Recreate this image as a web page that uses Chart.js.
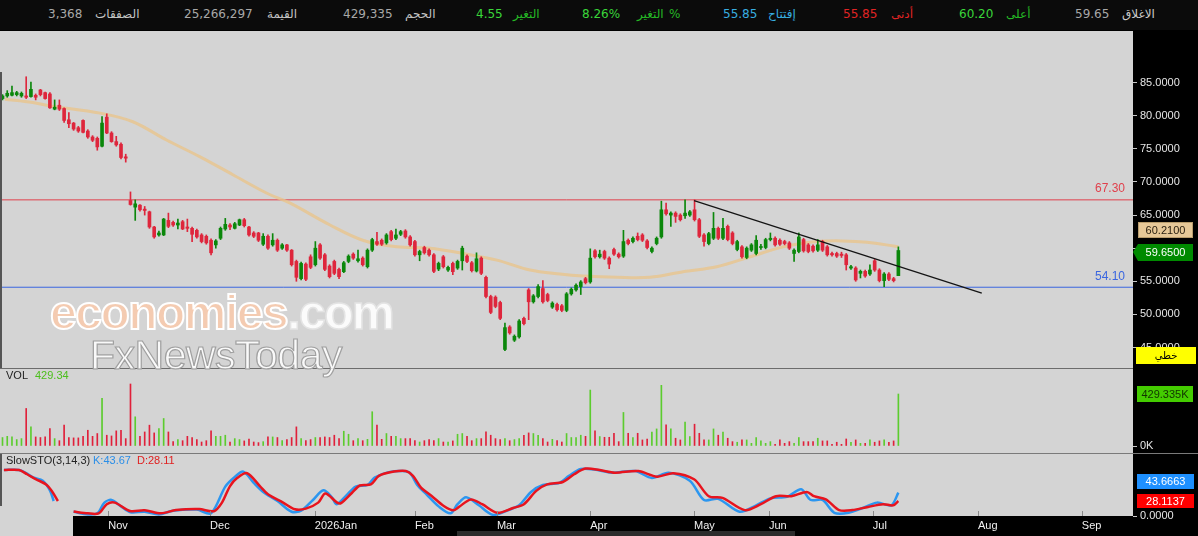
<!DOCTYPE html>
<html>
<head>
<meta charset="utf-8">
<script src="https://cdn.jsdelivr.net/npm/chart.js@4.4.1/dist/chart.umd.min.js"></script>
<style>
body { margin:0; width:1198px; height:536px; overflow:hidden; background:#000; position:relative; font-family:"DejaVu Sans",sans-serif; }
#hdr { position:absolute; left:0; top:0; width:1198px; height:30px; background:#0b0b0b; }
.t { position:absolute; top:7px; font-size:12px; white-space:nowrap; }
canvas { position:absolute; left:0; }
.lbl { position:absolute; font-family:"Liberation Sans",sans-serif; font-size:11px; white-space:nowrap; }
.box { position:absolute; font-family:"Liberation Sans",sans-serif; font-size:11px; text-align:center; box-sizing:border-box; }
.wm { position:absolute; font-family:"Liberation Sans",Arial,sans-serif; white-space:nowrap; pointer-events:none; }
</style>
</head>
<body>
<div id="hdr">
  <span class="t" style="left:48px;color:#a8a8a8">3,368</span>
  <span class="t" style="left:95px;color:#c4c4c4">الصفقات</span>
  <span class="t" style="left:184px;color:#a8a8a8">25,266,297</span>
  <span class="t" style="left:267px;color:#c4c4c4">القيمة</span>
  <span class="t" style="left:343px;color:#a8a8a8">429,335</span>
  <span class="t" style="left:405px;color:#c4c4c4">الحجم</span>
  <span class="t" style="left:476px;color:#3ad63a">4.55</span>
  <span class="t" style="left:513px;color:#25b825">التغير</span>
  <span class="t" style="left:582px;color:#3ad63a">8.26%</span>
  <span class="t" style="left:637px;color:#25b825">التغير</span>
  <span class="t" style="left:669px;color:#25b825">%</span>
  <span class="t" style="left:723px;color:#38aee0">55.85</span>
  <span class="t" style="left:768px;color:#38aee0">إفتتاح</span>
  <span class="t" style="left:843px;color:#e02424">55.85</span>
  <span class="t" style="left:891px;color:#e02424">أدنى</span>
  <span class="t" style="left:959px;color:#3ad63a">60.20</span>
  <span class="t" style="left:1006px;color:#25b825">أعلى</span>
  <span class="t" style="left:1075px;color:#a8a8a8">59.65</span>
  <span class="t" style="left:1122px;color:#cccccc">الاغلاق</span>
</div>

<canvas id="price" width="1198" height="337" style="top:31px"></canvas>
<div style="position:absolute;left:0;top:368px;width:1133px;height:1px;background:#6c6c6c"></div>
<canvas id="vol" width="1198" height="84" style="top:369px"></canvas>
<div style="position:absolute;left:0;top:453px;width:1198px;height:1px;background:#7a7a7a"></div>
<canvas id="sto" width="1198" height="82" style="top:454px"></canvas>
<div style="position:absolute;left:0;top:72px;width:2px;height:296px;background:#555"></div>
<div style="position:absolute;left:0;top:454px;width:2px;height:52px;background:#555"></div>

<div class="lbl" style="left:6px;top:369px;color:#222">VOL</div>
<div class="lbl" style="left:35px;top:369px;color:#4cbf1c">429.34</div>
<div class="lbl" style="left:6px;top:454px;color:#222">SlowSTO(3,14,3)</div>
<div class="lbl" style="left:93px;top:454px;color:#2a8ee8">K:43.67</div>
<div class="lbl" style="left:137px;top:454px;color:#e02020">D:28.11</div>

<div style="position:absolute;left:1136px;top:238px;width:60px;height:6px;background:#000"></div>
<div class="box" style="left:1138px;top:222px;width:55px;height:16px;line-height:15px;background:#e6c898;border:1px solid #b89c6c;color:#2a2010">60.2100</div>
<div style="position:absolute;left:1133px;top:244px;width:0;height:0;border-top:8px solid transparent;border-bottom:9px solid transparent;border-right:5px solid #008a00"></div>
<div class="box" style="left:1138px;top:244px;width:55px;height:17px;line-height:17px;background:#008a00;color:#fff">59.6500</div>
<div class="box" style="left:1136px;top:347px;width:60px;height:17px;line-height:17px;background:#ffff00;color:#000;font-family:'DejaVu Sans',sans-serif;font-size:10px">خطي</div>
<div class="box" style="left:1137px;top:386px;width:56px;height:16px;line-height:16px;background:#44cc00;color:#113300">429.335K</div>
<div class="box" style="left:1137px;top:474px;width:57px;height:15px;line-height:15px;background:#1e90ff;color:#fff">43.6663</div>
<div class="box" style="left:1137px;top:494px;width:57px;height:14px;line-height:14px;background:#ff0000;color:#fff">28.1137</div>

<div class="wm" style="left:50px;top:289px;font-size:48px;line-height:48px;font-weight:bold;letter-spacing:-1.5px;">
  <span style="color:rgba(248,202,172,0.88);-webkit-text-stroke:2px #ffffff">economies</span><span style="color:rgba(255,255,255,0.9);-webkit-text-stroke:1.5px #e4e4e4">.com</span>
</div>
<div class="wm" style="left:90px;top:335px;font-size:41px;line-height:41px;letter-spacing:-0.5px;color:rgba(255,255,255,0.85);-webkit-text-stroke:1.2px #a0a0a0">FxNewsToday</div>

<script>
// daily candles, oldest first
const opens = [82.6,83.0,83.1,83.2,83.0,83.0,82.9,83.1,83.9,83.5,83.3,81.0,81.6,81.1,79.4,78.9,78.2,79.3,77.7,76.8,
  76.6,75.4,79.8,77.4,76.1,75.7,73.8,67.2,66.2,66.5,65.9,65.5,63.2,62.0,62.0,64.2,63.9,63.5,64.0,63.2,
  63.0,62.7,62.0,61.8,61.2,60.5,61.5,62.9,63.5,63.0,63.5,64.3,63.2,62.3,62.3,60.6,61.8,60.5,61.2,60.0,
  60.5,59.7,58.0,55.4,57.6,58.7,57.5,60.5,59.0,57.3,58.0,56.8,56.45,58.0,59.1,58.1,58.5,57.2,59.7,61.0,
  61.2,60.8,62.5,61.5,62.1,62.6,61.7,61.0,59.0,60.1,59.7,59.0,56.85,58.7,56.7,57.7,57.0,58.1,58.8,57.8,
  56.55,58.5,55.6,52.7,52.6,51.8,44.7,48.1,46.1,46.6,49.4,53.7,51.9,52.7,53.9,53.0,51.1,51.5,51.3,50.6,
  53.1,53.7,54.2,55.4,54.9,59.6,58.7,59.5,58.5,59.8,59.1,58.8,61.2,61.0,61.8,62.0,61.1,59.5,60.7,61.7,
  65.8,65.0,65.3,65.0,64.9,65.0,65.8,64.3,62.0,60.7,61.5,63.0,61.5,63.3,62.3,59.8,60.2,58.6,59.7,59.2,
  60.1,60.1,61.3,61.5,61.2,61.0,60.8,59.2,59.5,61.3,60.5,60.3,59.7,61.0,60.2,59.2,59.2,59.1,59.0,57.0,
  57.0,56.2,56.5,56.1,58.1,56.7,55.1,56.1,55.4,55.85];
const highs = [83.2,83.8,84.5,83.7,83.6,85.9,85.1,83.3,84.0,83.6,83.5,82.4,82.4,81.2,80.5,79.0,78.4,79.4,77.9,77.0,
  76.8,79.9,80.3,77.6,76.9,75.9,74.2,68.5,67.3,66.6,66.3,65.6,63.3,62.6,64.5,65.3,64.1,64.4,64.2,64.4,
  63.2,62.9,62.2,62.0,61.4,61.3,63.2,64.5,63.7,63.9,64.4,64.5,63.3,62.5,62.4,62.2,62.0,62.2,61.4,60.7,
  60.6,59.8,58.2,57.9,57.8,59.0,61.0,60.7,59.2,57.5,58.2,57.0,58.0,59.0,59.3,59.7,58.7,59.9,61.5,62.4,
  61.4,62.2,62.7,62.9,62.7,62.8,61.9,61.2,59.7,60.3,59.9,59.2,57.9,58.9,57.3,57.9,58.2,60.3,59.0,58.0,
  59.3,58.7,55.8,52.9,52.8,52.0,48.7,48.3,46.9,49.2,49.6,53.9,53.0,54.5,55.1,53.2,51.9,51.7,51.5,53.3,
  54.0,54.6,55.1,55.6,59.9,59.8,59.7,59.7,58.7,60.0,59.3,62.7,61.4,61.7,62.3,62.2,61.3,60.2,61.7,67.1,
  66.8,65.5,65.5,65.2,67.3,65.7,67.3,64.5,62.2,62.4,65.4,63.2,64.5,63.5,62.5,61.2,60.4,60.2,60.7,61.9,
  60.6,61.5,62.3,61.7,61.4,61.2,61.0,59.9,62.3,61.5,60.7,60.5,61.3,61.2,60.4,59.4,59.4,59.4,59.2,57.4,
  57.2,56.7,56.7,57.5,58.3,56.9,56.3,56.3,55.6,60.2];
const lows = [82.4,82.8,83.0,83.0,82.8,82.6,82.8,82.4,83.0,82.5,81.1,80.9,80.8,79.0,78.2,77.8,77.5,77.4,76.6,76.1,
  74.8,75.3,77.3,76.0,75.4,73.5,73.0,66.5,64.2,65.6,65.0,63.0,61.5,61.8,61.9,63.1,63.3,62.9,62.8,62.5,
  61.0,61.5,60.8,60.6,59.0,60.0,61.3,62.7,62.8,62.9,63.4,63.2,61.8,61.6,61.0,60.4,59.8,60.3,59.5,59.8,
  59.5,57.3,55.0,55.2,55.1,56.9,57.3,58.3,56.6,55.5,56.0,55.4,56.3,57.8,58.3,57.9,57.3,57.0,59.5,60.4,
  60.4,60.6,61.1,61.3,61.9,61.5,60.3,58.8,58.1,59.1,58.8,56.3,56.6,57.0,56.5,56.0,56.8,56.7,57.8,56.4,
  56.4,56.0,52.5,50.1,51.0,49.2,44.5,47.0,45.9,46.4,48.4,49.2,51.7,52.5,51.7,51.9,50.9,50.5,50.4,50.4,
  52.9,53.5,53.0,54.6,54.7,58.5,58.5,58.3,56.9,58.9,58.5,58.6,60.5,60.8,61.1,61.0,59.9,59.3,60.5,61.5,
  65.0,63.3,63.9,64.1,64.5,64.8,64.1,61.6,60.3,60.5,61.3,61.3,61.3,61.1,60.5,59.6,58.5,58.4,59.5,59.0,
  59.8,59.9,61.1,60.3,60.4,60.5,59.8,58.0,59.3,59.4,59.3,59.4,59.5,59.5,58.8,58.8,58.6,58.6,56.7,56.8,
  55.0,55.5,55.6,55.9,56.5,54.9,54.2,55.1,54.9,55.85];
const closes = [83.0,83.4,83.5,83.5,83.4,82.8,84.0,82.8,83.2,82.6,81.2,81.3,81.0,79.3,78.8,78.0,77.7,77.5,76.8,76.3,
  75.3,78.9,77.4,76.1,75.6,73.7,73.6,66.6,66.7,65.8,65.7,63.2,61.7,62.3,64.4,63.3,63.5,63.8,62.9,63.0,
  62.1,61.7,61.0,60.8,59.3,61.1,63.0,63.6,63.2,63.7,64.3,63.4,62.0,61.8,61.2,61.8,60.0,61.2,59.7,60.5,
  59.7,57.5,55.6,57.7,55.3,57.1,60.0,58.5,56.8,55.7,56.2,55.7,57.8,58.8,58.5,58.4,57.5,59.7,61.3,60.6,
  60.6,62.0,61.3,62.0,62.5,61.7,60.5,59.0,59.5,59.3,59.0,56.5,57.7,57.2,57.1,56.45,58.0,60.0,58.0,56.6,
  58.4,56.2,52.7,50.3,51.2,49.4,48.0,47.2,46.7,49.0,48.6,51.9,52.8,54.2,51.9,52.1,51.7,50.7,50.6,53.1,
  53.8,54.4,54.9,54.8,58.5,58.7,59.1,58.5,57.6,59.1,58.7,61.0,60.7,61.5,61.3,61.2,60.1,60.0,61.5,65.8,
  65.2,65.3,64.8,64.3,65.3,65.5,64.3,61.8,61.0,62.2,63.0,61.5,63.0,61.3,60.7,61.0,58.7,60.0,60.5,61.2,
  60.2,61.3,61.5,60.5,60.6,60.7,60.0,59.7,61.7,59.6,59.5,59.6,60.5,59.7,59.0,59.0,58.8,58.9,57.5,57.2,
  55.2,56.5,55.8,56.7,56.7,55.1,56.1,55.3,55.1,59.65];
// volume in thousands
const volumes = [70,80,75,53,61,310,158,75,70,75, 144,61,44,172,70,67,67,80,130,80,
  103,394,89,83,125,130,61,512,241,80, 116,172,108,144,227,116,36,53,44,80,
  70,53,33,44,125,80,80,89,33,61, 53,42,58,33,28,36,75,75,70,44,
  53,70,158,61,44,53,70,70,75,70, 89,61,122,97,44,61,44,55,283,172,
  55,103,80,80,61,61,61,44,33,44, 53,44,61,33,33,42,97,103,80,44,
  61,61,116,89,61,53,61,44,53,61, 89,108,103,89,61,33,55,44,33,103,
  70,70,89,80,462,125,78,72,72,105, 36,277,105,70,105,50,58,114,141,501,
  175,141,64,50,197,78,180,105,50,50, 141,89,114,64,36,31,50,50,22,70,
  42,22,36,14,50,22,36,22,70,36, 36,36,64,42,42,14,31,14,58,31,
  50,22,22,50,31,42,50,31,42,429.335];
// moving average: [bar, value]
const smaLine = [[0.5,82.5],[6.4,82.0],[10,81.5],[20.6,80.4],[27.5,79.1],[34.7,76.3],[41.7,73.8],[48.6,71.1],
  [55.8,68.3],[60.7,66.8],[69.1,63.5],[76,61.2],[83.2,60.2],[90.2,60.0],[97.1,59.2],[104.3,58.2],[111.3,56.7],
  [117.6,56.1],[122.5,55.8],[129.6,55.6],[136.6,55.6],[143.6,56.45],[150.7,57.2],[157.7,58.7],[164.7,60.2],
  [171.8,61.0],[177.3,61.1],[182.4,60.9],[188.3,60.3],[189,60.21]];
const trendLine = [[145.9,67.2],[206.6,53.2]];
const levels = [67.30, 54.10];
const priceTicks = [45,50,55,60,65,70,75,80,85];
// slow stochastic: [bar, value], null = gap
const stochD = [[0.3,86],[3.5,86],[5.2,78],[7.1,68.6],[9.2,59],[10.4,46.7],[11.7,28],[12.5,null],
  [15,8.2],[18,5],[20.3,5],[22,22],[23.7,25],[26.9,9.4],[30,10.6],[33.4,5],[36.6,11],[41.5,13],[44.6,9],
  [46.3,25],[48,56],[49.5,71],[51.6,80],[54.3,56],[56,40.5],[59.2,25],[61.7,12.5],[64,13.7],[66.6,25],[68.1,42],
  [70.6,25],[71.4,24],[73.7,43],[75.4,57],[77.7,59],[79.4,75],[82.6,83],[85.1,84],[86.6,75],[88.3,53],
  [90.6,37],[93.1,18.7],[95.1,10.6],[96.3,17],[98.8,31],[101.2,22],[104.4,6],[107.7,15],[110,22],[112.6,47],
  [114.9,59],[118.2,63.6],[120.6,78],[123,88.6],[126,86],[129.2,81],[134.1,84],[138.1,73.6],[141.5,80],
  [145.9,68.6],[149,37],[151.9,34],[156.6,11],[160,22],[163.2,37],[166.4,37],[169.7,45],[171.2,37],[173.7,31],
  [176.5,11],[179.3,11],[182.6,17],[185.8,22],[187.9,20],[189,28.11]];
const stochK = [[0.3,86],[3.5,86],[5,80],[6.5,72],[8.5,66],[10,48],[10.8,28],[12.5,null],
  [15,8],[18,3],[20,5],[21.5,25],[23,30],[25,18],[27,7],[30,8],[33,3],[36,10],[41,12],[44,5],
  [47,55],[49,73],[50.8,83],[53,62],[55,45],[58,28],[61,8],[63,10],[65.5,30],[67.7,48],
  [69.5,35],[70.5,22],[72.5,38],[74.5,55],[77,58],[78.5,72],[81.5,82],[84.5,84],[86,80],[87.5,58],
  [89.5,40],[92,18],[94.5,5],[96,22],[97.8,35],[100.5,20],[103.5,2],[107,12],[109,20],[111.5,45],
  [114,58],[117.5,62],[119.5,75],[122,88],[125.5,86],[128.5,81],[133.5,84],[137,71],[140.5,81],[145,66],
  [148,30],[151,32],[155.5,8],[159,20],[162,33],[165.5,36],[168.5,50],[170.5,30],[173,30],[175.5,6],
  [178.5,6],[181.5,15],[184.5,25],[187.5,20],[189,43.67]];
const monthPos = [22.3,43.8,65.9,87.0,104.3,124.0,145.9,161.7,183.6,205.8,227.7];
const monthLabels = ['Nov','Dec','2026Jan','Feb','Mar','Apr','May','Jun','Jul','Aug','Sep'];

const X_MIN = -0.527, X_MAX = 238.5;
const UP = '#0b870b', DOWN = '#de263c';
const candleColor = closes.map((c, i) => c >= opens[i] ? UP : DOWN);
const volColor = closes.map((c, i) => c >= opens[i] ? '#5ccc2e' : '#e0203a');
const pts = arr => arr.map(p => ({x: p[0], y: p[1]}));

const bgPlugin = {
    id: 'panelBg',
    beforeDraw(chart) {
        const {ctx, chartArea: a} = chart;
        ctx.save();
        ctx.fillStyle = '#d4d4d4';
        ctx.fillRect(a.left, a.top, a.right - a.left, a.bottom - a.top);
        ctx.restore();
    }
};

// no label padding at the ends, so the plot fills the panel
const noPad = s => { s.paddingTop = 0; s.paddingBottom = 0; s.paddingLeft = 0; s.paddingRight = 0; };

function rightAxis(min, max, tickVals, fmt) {
    return {
        position: 'right', min, max,
        afterFit: s => { s.width = 65; noPad(s); },
        afterBuildTicks: s => { s.ticks = tickVals.map(v => ({value: v})); },
        grid: {drawOnChartArea: false, drawTicks: true, tickLength: 4, color: '#c8c8c8'},
        border: {display: false},
        ticks: {color: '#e6e6e6', font: {family: 'Liberation Sans', size: 11}, padding: 3, callback: fmt}
    };
}
const hiddenX = {type: 'linear', min: X_MIN, max: X_MAX, display: false, offset: false, grid: {offset: false}};

Chart.defaults.animation = false;
Chart.defaults.plugins.legend.display = false;
Chart.defaults.plugins.tooltip.enabled = false;

const levelLabels = {
    id: 'levelLabels',
    afterDatasetsDraw(chart) {
        const {ctx, chartArea: a, scales} = chart;
        const cols = ['#e0404c', '#3a66e0'];
        ctx.save();
        ctx.font = '12px "Liberation Sans"';
        ctx.textAlign = 'right';
        ctx.textBaseline = 'bottom';
        levels.forEach((v, k) => {
            ctx.fillStyle = cols[k];
            ctx.fillText(v.toFixed(2), a.right - 8, scales.y.getPixelForValue(v) - 5);
        });
        ctx.restore();
    }
};

new Chart(document.getElementById('price'), {
    type: 'bar',
    data: {
        datasets: [
            {type: 'line', data: pts(trendLine), borderColor: '#141414', borderWidth: 1.3, pointRadius: 0},
            {data: opens.map((o, i) => ({x: i, y: [o, closes[i]]})), backgroundColor: candleColor,
             barThickness: 3, minBarLength: 1, grouped: false, borderSkipped: false},
            {data: lows.map((l, i) => ({x: i, y: [l, highs[i]]})), backgroundColor: candleColor,
             barThickness: 1, grouped: false, borderSkipped: false},
            {type: 'line', data: pts(smaLine), borderColor: 'rgba(232,196,140,0.8)', borderWidth: 3,
             pointRadius: 0, tension: 0.35},
            {type: 'line', data: [{x: X_MIN, y: levels[0]}, {x: X_MAX, y: levels[0]}], borderColor: '#e0404c',
             borderWidth: 1, pointRadius: 0},
            {type: 'line', data: [{x: X_MIN, y: levels[1]}, {x: X_MAX, y: levels[1]}], borderColor: '#3a66e0',
             borderWidth: 1, pointRadius: 0}
        ]
    },
    options: {
        responsive: false,
        layout: {padding: 0},
        scales: {
            x: hiddenX,
            y: rightAxis(41.9, 92.81, priceTicks, v => v.toFixed(4))
        }
    },
    plugins: [bgPlugin, levelLabels]
});

new Chart(document.getElementById('vol'), {
    type: 'bar',
    data: {
        datasets: [{data: volumes.map((v, i) => ({x: i, y: v})), backgroundColor: volColor,
                    barThickness: 1, grouped: false}]
    },
    options: {
        responsive: false,
        layout: {padding: 0},
        scales: {
            x: hiddenX,
            y: rightAxis(-57.8, 635.8, [0], v => v + 'K')
        }
    },
    plugins: [bgPlugin]
});

const stoFrame = {
    id: 'stoFrame',
    beforeDraw(chart) {
        const {ctx, chartArea: a, height} = chart;
        ctx.save();
        ctx.fillStyle = '#d4d4d4';
        ctx.fillRect(0, a.bottom, 73, height - a.bottom);
        ctx.fillStyle = '#2c2c2c';
        ctx.fillRect(457, height - 5, 338, 5);
        ctx.restore();
    },
    afterDraw(chart) {
        const {ctx, chartArea: a, scales} = chart;
        ctx.save();
        ctx.strokeStyle = '#8a8a8a';
        ctx.lineWidth = 1;
        monthPos.forEach(m => {
            const x = Math.round(scales.x.getPixelForValue(m)) + 0.5;
            ctx.beginPath();
            ctx.moveTo(x, a.bottom - 5);
            ctx.lineTo(x, a.bottom);
            ctx.stroke();
        });
        ctx.restore();
    }
};

new Chart(document.getElementById('sto'), {
    type: 'line',
    data: {
        datasets: [
            {data: pts(stochD), borderColor: '#e8141e', borderWidth: 2.5, pointRadius: 0, tension: 0.3, spanGaps: false},
            {data: pts(stochK), borderColor: '#2b96f0', borderWidth: 2.5, pointRadius: 0, tension: 0.3, spanGaps: false}
        ]
    },
    options: {
        responsive: false,
        layout: {padding: 0},
        scales: {
            x: {
                type: 'linear', min: X_MIN, max: X_MAX, offset: false,
                afterFit: s => { s.height = 20; noPad(s); },
                afterBuildTicks: s => { s.ticks = monthPos.map(v => ({value: v})); },
                grid: {display: false, drawTicks: false},
                border: {display: false},
                ticks: {color: '#f0f0f0', font: {family: 'Liberation Sans', size: 11}, padding: 3,
                        align: 'start', autoSkip: false, maxRotation: 0,
                        callback: (v, i) => monthLabels[i]}
            },
            y: rightAxis(0, 115.9, [0], v => v.toFixed(4))
        }
    },
    plugins: [bgPlugin, stoFrame]
});
</script>
</body>
</html>
